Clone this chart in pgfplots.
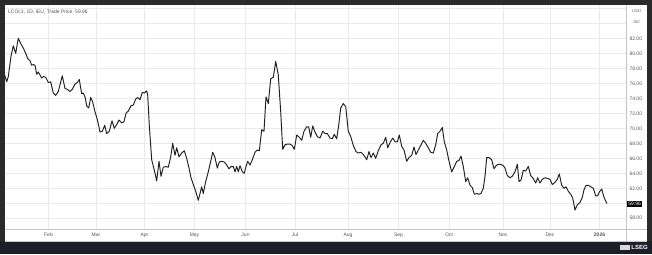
\documentclass[border=0pt]{standalone}
\usepackage{fontspec}
\setmainfont{Liberation Sans}
\usepackage{pgfplots}
\pgfplotsset{compat=1.18}
\definecolor{frame}{HTML}{2A2A2A}
\definecolor{strip}{HTML}{1C1F27}
\definecolor{gridc}{HTML}{EAEAEA}
\definecolor{axc}{HTML}{C4C4C4}
\definecolor{txt}{HTML}{555555}
\begin{document}
\begin{tikzpicture}[x=1pt,y=1pt]
\useasboundingbox (0,0) rectangle (652,254);
\fill[frame] (0,0) rectangle (652,254);
\fill[strip] (0,0) rectangle (652,13);
\fill[white] (5,13) rectangle (647,249);
\begin{axis}[
  at={(5pt,25pt)}, anchor=south west, scale only axis,
  width=621pt, height=224pt,
  xmin=5, xmax=626, ymin=56.57, ymax=86.44,
  axis line style={draw=none},
  major tick length=0pt,
  grid=major, grid style={gridc, line width=0.5pt},
  xtick={48.5,96,144.5,194.5,245.5,295,348,398.5,449,503,550,599.5},
  xticklabels={Feb,Mar,Apr,May,Jun,Jul,Aug,Sep,Oct,Nov,Dec,\textbf{2026}},
  xticklabel style={yshift=-0.8pt},
  ytick={58,60,62,64,66,68,70,72,74,76,78,80,82,84,86},
  yticklabels={58.00,,62.00,64.00,66.00,68.00,70.00,72.00,74.00,76.00,78.00,80.00,82.00,,},
  yticklabel pos=right,
  ticklabel style={font=\fontsize{5}{5.5}\selectfont, text=txt},
  clip mode=individual,
]
\addplot[line width=0.95pt, color=black!88, line join=round] coordinates {
(4.7,77.1)(6.7,76.2)(8.3,76.9)(11,79.6)(13.3,81.0)(15.7,80.0)(18.3,82.0)(20.7,81.3)
(23.3,80.7)(26,79.9)(27.7,79.3)(30,79.0)(31.7,78.4)(33.3,78.5)(35,78.4)(36.7,77.2)
(38.3,77.5)(40,77.1)(41.7,76.7)(43.3,76.9)(45.7,76.8)(48.3,76.1)(50.7,76.2)(53.3,74.7)
(55.7,74.4)(58.3,74.9)(60,75.8)(62.3,77.0)(65,75.3)(67.3,75.2)(70,74.9)(72.3,75.2)
(75,75.9)(77.3,76.1)(79.3,76.5)(81.7,74.6)(83.3,74.7)(85,74.2)(86.7,73.0)(88.7,72.7)
(90.7,74.1)(92.7,73.5)(95,72.2)(97.3,71.2)(100,69.5)(102.3,69.6)(104.7,70.4)(106.7,69.3)
(109.3,69.6)(112,71.0)(114.3,70.0)(116.7,70.5)(119,71.1)(121.7,70.7)(124,70.9)(126,72.0)
(128.3,72.3)(131,73.0)(133.3,73.1)(135.7,73.9)(137.7,74.1)(140,73.8)(142.3,74.8)(144.3,74.7)
(146.7,75.0)(147.7,74.4)(149.3,70.4)(151.7,65.8)(154.3,64.4)(156.7,63.0)(159,65.6)(161,63.6)
(163.3,64.8)(165.7,64.9)(168.3,64.8)(170.7,66.2)(172.7,68.0)(175,66.4)(176.7,67.4)(179,66.2)
(181.7,66.7)(184.3,67.0)(186.7,66.0)(189,64.7)(191,63.4)(193.3,62.5)(195.7,61.6)(198.3,60.4)
(200,61.3)(201.7,62.2)(203.3,61.3)(205.7,62.9)(208.3,64.2)(210.7,65.6)(212.7,66.8)(215,66.1)
(217.3,64.7)(219.3,65.5)(221.7,65.6)(224.3,65.5)(226.7,65.1)(229,64.6)(231,64.9)(233.3,64.9)
(235,64.2)(236.7,64.9)(238.3,64.2)(240,65.0)(242.3,64.2)(244.3,64.0)(246,64.9)(247.7,65.6)
(250,65.1)(252.3,65.8)(255,66.8)(257.3,67.1)(259.3,67.0)(261.7,69.8)(264,69.6)(266,74.2)
(268.3,73.3)(270.7,76.6)(273.3,76.8)(275.7,78.9)(278.3,77.1)(280.7,72.2)(282.7,67.2)(285,67.8)
(287.3,67.9)(290,67.9)(292.3,67.7)(294.3,67.2)(296.7,69.1)(299.3,68.8)(301.7,68.4)(304,69.6)
(306.7,70.2)(308.7,70.2)(310.7,68.8)(312.7,70.3)(315,69.5)(317.3,68.9)(320,68.7)(322.7,69.6)
(325,69.3)(327.3,69.3)(330,68.7)(332.3,68.6)(334.3,69.2)(336.7,68.6)(338.7,70.4)(340.7,72.7)
(343.3,73.3)(345.7,72.9)(348.3,69.6)(350.7,68.9)(353.3,67.7)(356,66.9)(358.3,66.7)(361,66.8)
(363.3,66.5)(365,66.2)(366.7,65.8)(369,66.9)(371,66.1)(373.3,66.7)(375.7,66.0)(378.3,67.0)
(381,67.8)(383.3,68.0)(385.7,68.8)(387.7,67.4)(390,68.1)(392.7,68.7)(395,68.2)(397.3,68.2)
(399.3,69.1)(401.7,67.6)(404,67.1)(406.7,65.6)(409,66.1)(411.7,66.4)(414,67.5)(416,66.5)
(418.3,67.1)(420.7,67.7)(423.3,68.4)(425.7,68.0)(428.3,67.4)(430.7,66.8)(433.3,66.7)(435.7,67.8)
(437.7,69.3)(440,69.6)(442.3,70.1)(444.3,68.2)(446.7,67.1)(449,65.6)(451.7,64.2)(454,64.8)
(456.7,65.6)(459,65.7)(461,66.3)(463.3,64.9)(465.7,62.9)(467.7,63.4)(470,62.4)(472.3,62.1)
(474.3,61.2)(476.7,61.3)(479,61.2)(481,61.3)(483.3,62.0)(485,63.6)(486.7,66.1)(489,66.1)
(491.7,65.8)(494,64.6)(496,65.0)(498.3,65.2)(500.7,65.2)(503.3,65.0)(505,64.7)(507.3,63.7)
(510,63.4)(512.3,63.6)(515,64.2)(517.3,65.2)(519,62.9)(521,63.1)(523.3,64.4)(525.7,64.3)
(528.3,64.9)(530.7,63.7)(533.3,63.3)(535.7,62.7)(537.7,63.4)(540,62.7)(542.3,63.2)(545,63.4)
(547.7,63.3)(550,63.2)(552.3,62.5)(555,62.8)(557.3,63.2)(559.3,63.9)(561.7,62.4)(564,62.0)
(566,62.2)(568.3,61.6)(570.7,61.2)(572.7,60.7)(575,59.1)(577.3,59.8)(580,60.1)(582.3,60.8)
(584,61.8)(586,62.4)(588.3,62.4)(590.7,62.2)(593.3,62.0)(595.7,61.0)(597.7,61.0)(599.3,61.5)
(601.7,61.9)(604,60.8)(606,60.2)(607,59.96)
};
\node[fill=black, text=white, anchor=west, inner sep=1.2pt, font=\fontsize{5}{5.5}\selectfont] at (axis cs:627,59.96) {59.96};
\end{axis}
\draw[axc, line width=0.5pt] (5,25) -- (647,25);
\draw[axc, line width=0.5pt] (626,13) -- (626,249);
\draw[axc, line width=0.5pt] (5,13) -- (647,13);
\node[anchor=west, text=txt, font=\fontsize{5}{6}\selectfont, inner sep=0pt] at (8,242) {LCOc1, 1D, IEU, Trade Price\ \ 59.96};
\node[text=txt!80, font=\fontsize{4.5}{5}\selectfont, inner sep=0pt] at (636.5,243) {USD};
\node[text=txt!80, font=\fontsize{4.5}{5}\selectfont, inner sep=0pt] at (636.5,232) {bbl};
\fill[white!85!black] (620,4) rectangle (630,9.5);
\node[anchor=east, text=white, font=\bfseries\fontsize{6}{7}\selectfont, inner sep=0pt] at (648,6.5) {LSEG};
\end{tikzpicture}
\end{document}
